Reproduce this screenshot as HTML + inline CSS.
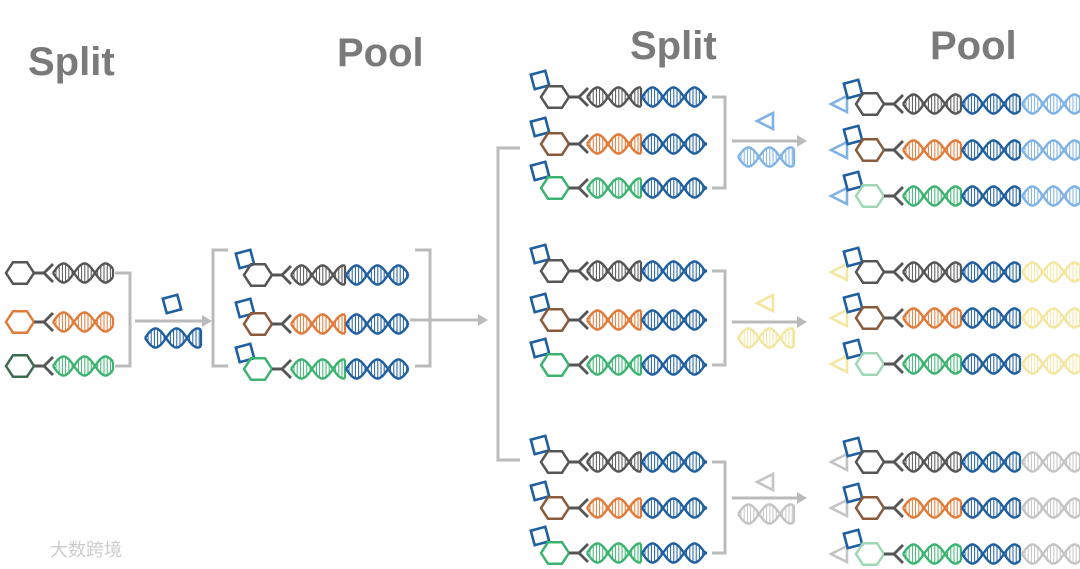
<!DOCTYPE html>
<html><head><meta charset="utf-8"><style>
html,body{margin:0;padding:0;background:#fff;width:1080px;height:569px;overflow:hidden}
svg{display:block}
text{font-family:"Liberation Sans","Noto Sans CJK SC",sans-serif;font-weight:bold;fill:#7a7a7a}
</style></head><body>
<svg id="s" width="1080" height="569" viewBox="0 0 1080 569" xmlns="http://www.w3.org/2000/svg">
<text x="28" y="75" font-size="40">Split</text>
<text x="337" y="66" font-size="40">Pool</text>
<text x="630" y="59" font-size="40">Split</text>
<text x="930" y="59" font-size="40">Pool</text>
<text x="50" y="556" font-size="18" style="fill:#ccc;font-weight:normal">大数跨境</text>
<g id="g"></g>
</svg>
<script>
var g=document.getElementById('g'),o='';
var C={k:'#555',o:'#e07b39',gr:'#3cb371',dg:'#3d6b4f',b:'#1f5fa0',lb:'#7fb2e5',y:'#f3e6a0',lg:'#c4c4c4',br:'#8a5a3a',B:'#bbb'};
function dna(x0,w,y,c){var A=9.5,h=21,p1='',p2='';for(var x=0;x<=w-4;x+=1){var v=A*Math.sin(Math.PI*x/h);p1+=(x?'L':'M')+(x0+x)+' '+(y-v).toFixed(1);p2+=(x?'L':'M')+(x0+x)+' '+(y+v).toFixed(1);}
o+='<path d="'+p1+'" fill="none" stroke="'+c+'" stroke-width="2.4"/><path d="'+p2+'" fill="none" stroke="'+c+'" stroke-width="2.4"/>';
for(var x=3;x<w-4;x+=3.2){var v=A*Math.abs(Math.sin(Math.PI*x/h));if(v>2)o+='<line x1="'+(x0+x)+'" y1="'+(y-v)+'" x2="'+(x0+x)+'" y2="'+(y+v)+'" stroke="'+c+'" stroke-width="1"/>';}
var v=A*Math.abs(Math.sin(Math.PI*(w-4)/h));o+='<line x1="'+(x0+w-4)+'" y1="'+(y-v)+'" x2="'+(x0+w-4)+'" y2="'+(y+v)+'" stroke="'+c+'" stroke-width="2.2"/>';}
function hex(cx,cy,c,r){r=r||14;var p=[];for(var i=0;i<6;i++){var a=Math.PI/3*i;p.push((cx+r*Math.cos(a)).toFixed(1)+','+(cy+r*0.88*Math.sin(a)).toFixed(1));}o+='<polygon points="'+p.join(' ')+'" fill="none" stroke="'+c+'" stroke-width="2.5"/>';}
function link(x,y){o+='<line x1="'+x+'" y1="'+y+'" x2="'+(x+10)+'" y2="'+y+'" stroke="#555" stroke-width="3"/><polyline points="'+(x+19)+','+(y-9)+' '+(x+10)+','+y+' '+(x+19)+','+(y+9)+'" fill="none" stroke="#555" stroke-width="2.8"/>';}
function sq(cx,cy){o+='<rect x="'+(cx-7.5)+'" y="'+(cy-7.5)+'" width="15" height="15" fill="none" stroke="#1f5fa0" stroke-width="2.6" transform="rotate(-15 '+cx+' '+cy+')"/>';}
function tri(cx,cy,c){o+='<polygon points="'+(cx-9)+','+cy+' '+(cx+7)+','+(cy-8)+' '+(cx+7)+','+(cy+8)+'" fill="none" stroke="'+c+'" stroke-width="2.6"/>';}
function L(pts,c,w){o+='<polyline points="'+pts+'" fill="none" stroke="'+(c||C.B)+'" stroke-width="'+(w||3)+'"/>';}
function arr(x1,x2,y){o+='<line x1="'+x1+'" y1="'+y+'" x2="'+(x2-8)+'" y2="'+y+'" stroke="#bbb" stroke-width="3"/><polygon points="'+(x2-10)+','+(y-6)+' '+x2+','+y+' '+(x2-10)+','+(y+6)+'" fill="#bbb"/>';}
var cols=[C.k,C.o,C.gr],hexc=[C.k,C.o,C.dg];
[273,322,366].forEach(function(y,i){hex(20,y,hexc[i]);link(34,y);dna(53,64,y,cols[i]);});
L('115,273 130,273 130,366 115,366');
arr(135,212,321);sq(172,304);dna(145,60,338,C.b);
L('228,250 213,250 213,366 228,366');
var hp=[C.k,C.br,C.gr];
[275,324,369].forEach(function(y,i){sq(245,y-16);hex(258,y,hp[i]);link(272,y);dna(291,58,y,cols[i]);dna(346,66,y,C.b);});
L('415,250 430,250 430,366 415,366');
arr(410,488,320);
L('520,148 498,148 498,460 520,460');
function group(ys,ay,tc,ty){ys.forEach(function(y,i){sq(540,y-17);hex(555,y,hp[i]);link(569,y);dna(587,58,y,cols[i]);dna(642,68,y,C.b);});
L('712,'+ys[0]+' 725,'+ys[0]+' 725,'+ys[2]+' 712,'+ys[2]);arr(732,807,ay);tri(766,ty,tc);dna(738,60,ay+16,tc);}
group([97,144,188],141,C.lb,121);
group([271,320,365],322,C.y,303);
group([462,508,553],498,C.lg,482);
function pool(ys,tc){ys.forEach(function(y,i){tri(840,y,tc);sq(853,y-15);hex(870,y,i==2?'#9fd8b5':hp[i]);link(884,y);dna(903,62,y,cols[i]);dna(962,62,y,C.b);dna(1022,62,y,tc);});}
pool([104,150,196],C.lb);pool([272,318,364],C.y);pool([462,508,554],C.lg);
g.innerHTML=o;
</script>
</body></html>
